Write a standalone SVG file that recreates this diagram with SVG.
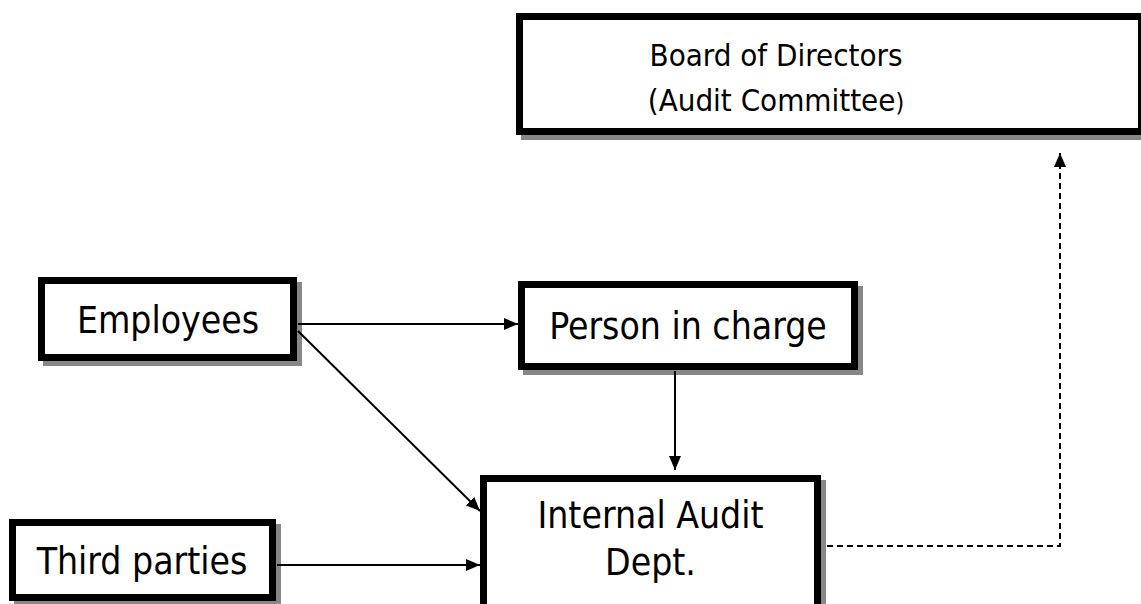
<svg xmlns="http://www.w3.org/2000/svg" width="1141" height="604" viewBox="0 0 1141 604">
<style>
.shadow{fill:#878787;}
.box{fill:#fff;stroke:#000;stroke-width:7;}
.t{font-family:"DejaVu Sans Condensed","DejaVu Sans",sans-serif;font-stretch:condensed;font-size:37px;fill:#000;text-anchor:middle;}
.bt{font-size:31px;}
.c{fill:none;stroke:#000;stroke-width:2;}
.d{stroke-dasharray:6 4;}
</style>
<defs>
<marker id="ah" markerUnits="userSpaceOnUse" markerWidth="14" markerHeight="12" viewBox="0 0 14 12" refX="14" refY="6" orient="auto">
<path d="M0,0 L14,6 L0,12 Z" fill="#000"/>
</marker>
</defs>
<rect width="1141" height="604" fill="#fff"/>
<g id="board">
<rect class="shadow" x="521" y="18" width="630" height="122"/>
<rect class="box" x="519.5" y="16.5" width="622" height="115"/>
<text class="t bt" x="776" y="66">Board of Directors</text>
<text class="t bt" x="776" y="111">(Audit Committee<tspan style="font-size:25px">)</tspan></text>
</g>
<g id="employees">
<rect class="shadow" x="43" y="282" width="259" height="84"/>
<rect class="box" x="41.5" y="280.5" width="252" height="77"/>
<text class="t" x="168" y="333">Employees</text>
</g>
<g id="person">
<rect class="shadow" x="523" y="286" width="340" height="89"/>
<rect class="box" x="521.5" y="284.5" width="333" height="82"/>
<text class="t" x="688" y="339">Person in charge</text>
</g>
<g id="third">
<rect class="shadow" x="14" y="524" width="267" height="82"/>
<rect class="box" x="12.5" y="522.5" width="260" height="75"/>
<text class="t" x="142" y="574">Third parties</text>
</g>
<g id="audit">
<rect class="shadow" x="485" y="480" width="341" height="140"/>
<rect class="box" x="483.5" y="478.5" width="334" height="135"/>
<text class="t" x="650.5" y="528">Internal Audit</text>
<text class="t" x="650.5" y="575">Dept.</text>
</g>
<g id="connectors">
<line class="c" x1="298" y1="324" x2="518" y2="324" marker-end="url(#ah)"/>
<line class="c" x1="298" y1="331" x2="480" y2="511" marker-end="url(#ah)"/>
<line class="c" x1="675" y1="371" x2="675" y2="470" marker-end="url(#ah)"/>
<line class="c" x1="277" y1="565" x2="480" y2="565" marker-end="url(#ah)"/>
<path class="c d" d="M827,546 H1060 V153" marker-end="url(#ah)"/>
</g>
</svg>
